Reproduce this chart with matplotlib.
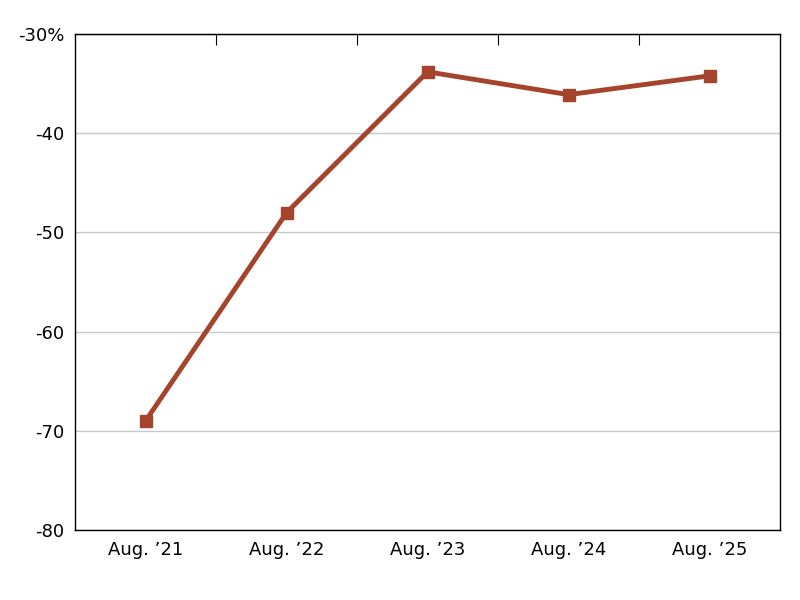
import numpy as np
import matplotlib.pyplot as plt

categories = ["Aug. \u201921", "Aug. \u201922", "Aug. \u201923", "Aug. \u201924", "Aug. \u201925"]
values = [-69.0, -48.0, -33.8, -36.1, -34.2]
y_ticks = [-80, -70, -60, -50, -40, -30]
y_labels = ["-80", "-70", "-60", "-50", "-40", "-30%"]

fig = plt.figure(figsize=(8, 6), dpi=100)
ax = fig.add_axes([0.094, 0.117, 0.881, 0.826])

x = np.arange(len(categories))
ax.plot(x, values, color="#a5442c", linewidth=3.5, marker="s", markersize=9, zorder=3)

ax.set_xlim(-0.5, len(categories) - 0.5)
ax.set_ylim(-80, -30)
ax.set_yticks(y_ticks)
ax.set_yticklabels(y_labels, fontsize=13)
ax.set_xticks(x)
ax.set_xticklabels(categories, fontsize=13)
ax.tick_params(axis="both", length=0, pad=8)
ax.yaxis.grid(True, color="#c8c8c8", linewidth=1)
ax.set_axisbelow(True)

# small separator ticks along the top edge
sec = ax.secondary_xaxis("top")
sec.set_xticks(x[:-1] + 0.5)
sec.set_xticklabels([])
sec.tick_params(direction="in", length=8, color="black")

for s in ax.spines.values():
    s.set_color("black")
    s.set_linewidth(1)

fig.savefig("out.png", dpi=100)
